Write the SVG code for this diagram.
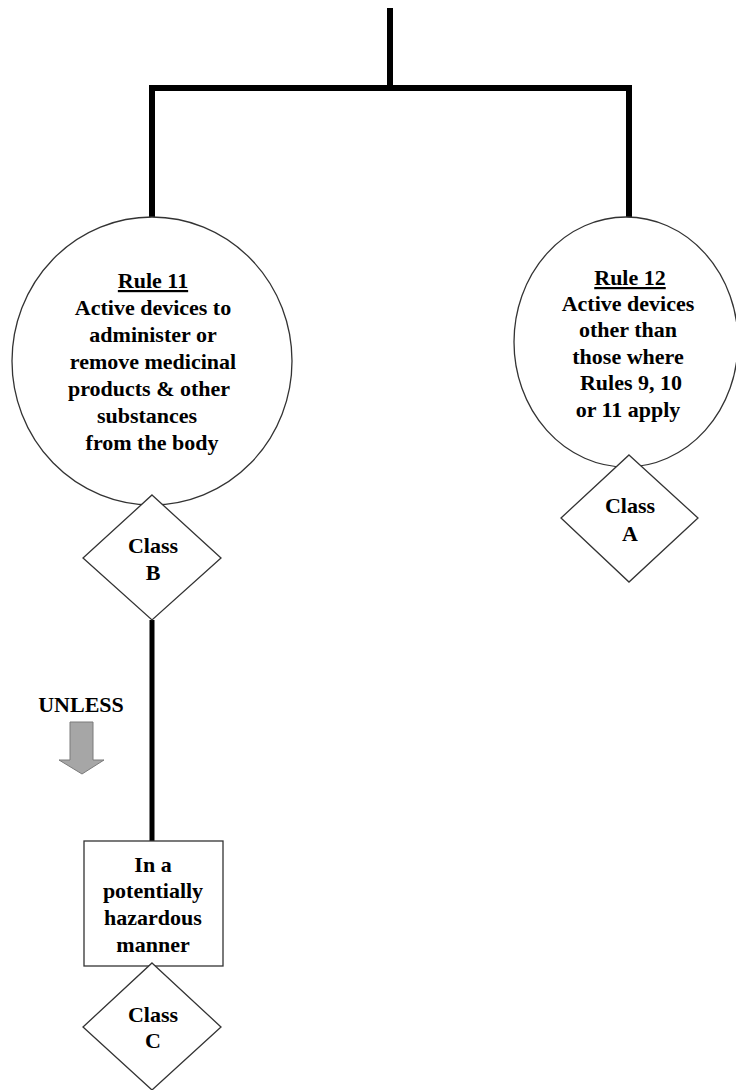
<svg xmlns="http://www.w3.org/2000/svg" width="736" height="1090" viewBox="0 0 736 1090">
<style>
.bg{fill:#ffffff}
.shape{fill:#ffffff;stroke:#333333;stroke-width:1.3}
.conn{fill:none;stroke:#000000;stroke-width:6;stroke-linecap:butt;stroke-linejoin:miter}
.conn2{fill:none;stroke:#000000;stroke-width:5}
text{font-family:"Liberation Serif","Times New Roman",serif;font-weight:bold;font-size:22px;fill:#000000;text-anchor:middle}
.ul{text-decoration:underline}
.arrow{fill:#a6a6a6;stroke:#7a7a7a;stroke-width:1}
</style>
<rect class="bg" x="0" y="0" width="736" height="1090"/>
<g id="connectors">
  <path class="conn" d="M390,8 V88"/>
  <path class="conn" d="M152,219 V88 H629 V219"/>
  <path class="conn2" d="M152,620 V841"/>
</g>
<g id="rule11">
  <ellipse class="shape" cx="152" cy="361" rx="140" ry="144"/>
  <text x="153" y="288" class="ul">Rule 11</text>
  <text x="153" y="315">Active devices to</text>
  <text x="153" y="342">administer or</text>
  <text x="153" y="369">remove medicinal</text>
  <text x="149" y="396">products &amp; other</text>
  <text x="147" y="423">substances</text>
  <text x="152" y="450">from the body</text>
</g>
<g id="classB">
  <polygon class="shape" points="152,495 221,558 152,620 83,558"/>
  <text x="153" y="553">Class</text>
  <text x="153" y="580">B</text>
</g>
<g id="rule12">
  <ellipse class="shape" cx="626" cy="342" rx="112" ry="125"/>
  <text x="630" y="285" class="ul">Rule 12</text>
  <text x="628" y="311">Active devices</text>
  <text x="628" y="337">other than</text>
  <text x="628" y="364">those where</text>
  <text x="631" y="390">Rules 9, 10</text>
  <text x="628" y="417">or 11 apply</text>
</g>
<g id="classA">
  <polygon class="shape" points="629,455 698,518 629,582 561,518"/>
  <text x="630" y="513">Class</text>
  <text x="630" y="541">A</text>
</g>
<g id="unless">
  <text x="81" y="712">UNLESS</text>
  <polygon class="arrow" points="70,722 93,722 93,760 104,760 82,774 59,760 70,760"/>
</g>
<g id="hazardous">
  <rect class="shape" x="84" y="841" width="139" height="125"/>
  <text x="153" y="872">In a</text>
  <text x="153" y="898">potentially</text>
  <text x="153" y="925">hazardous</text>
  <text x="153" y="952">manner</text>
</g>
<g id="classC">
  <polygon class="shape" points="152,963 221,1027 152,1090 83,1027"/>
  <text x="153" y="1022">Class</text>
  <text x="153" y="1048">C</text>
</g>
</svg>
